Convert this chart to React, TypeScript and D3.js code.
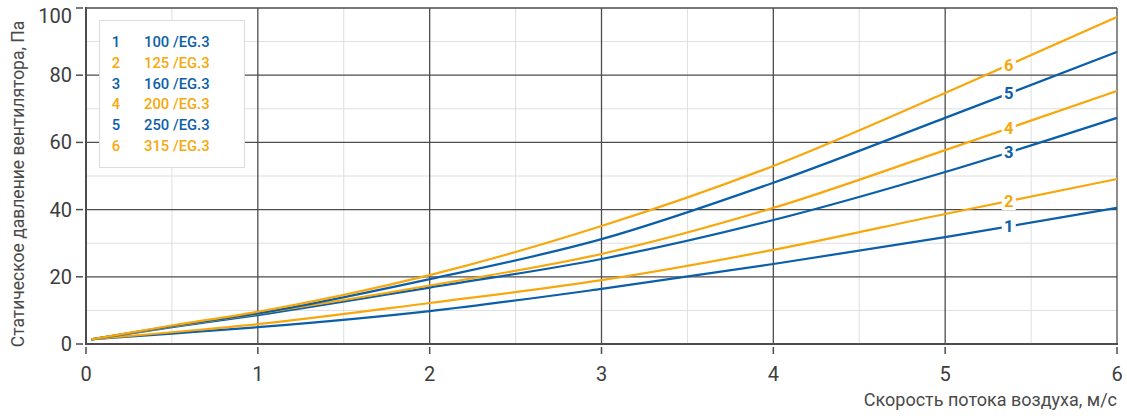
import React from 'react';
import * as d3 from 'd3';

// air speed, m/s
const speeds: number[] = [0.03, 0.5, 1, 2, 3, 4, 5, 6];

// static pressure, Pa, one list per fan size
const series1: number[] = [1.4, 3.1, 5.0, 9.8, 16.4, 23.8, 31.8, 40.5];
const series2: number[] = [1.4, 3.5, 5.9, 12.2, 19.0, 28.0, 38.7, 49.1];
const series3: number[] = [1.4, 5.0, 8.6, 16.8, 25.3, 36.9, 51.2, 67.3];
const series4: number[] = [1.4, 5.2, 9.0, 17.4, 26.8, 40.5, 57.7, 75.3];
const series5: number[] = [1.4, 5.3, 9.1, 19.3, 31.2, 48.0, 67.3, 86.9];
const series6: number[] = [1.4, 5.5, 9.6, 20.5, 35.1, 53.0, 74.7, 97.3];

const seriesIds: string[] = ['1', '2', '3', '4', '5', '6'];
const seriesNames: string[] = ['100 /EG.3', '125 /EG.3', '160 /EG.3', '200 /EG.3', '250 /EG.3', '315 /EG.3'];

const xTicks: number[] = [0, 1, 2, 3, 4, 5, 6];
const yTicks: number[] = [0, 20, 40, 60, 80, 100];
const labelSpeed = 5.37;

const BLUE = '#0b5fa9';
const ORANGE = '#f8a70c';
const FONT = 'Roboto, "DejaVu Sans", sans-serif';

interface IMargin { top: number; right: number; bottom: number; left: number; }

function App() {
    const width = 1127;
    const height = 418;
    const margin: IMargin = { top: 8, right: 10, bottom: 74, left: 86 };

    const x = d3.scaleLinear().domain([0, 6]).range([margin.left, width - margin.right]);
    const y = d3.scaleLinear().domain([0, 100]).range([height - margin.bottom, margin.top]);

    const all = [series1, series2, series3, series4, series5, series6];
    const colors = all.map((_, i) => (i % 2 === 0 ? BLUE : ORANGE));

    const line = d3.line<number>()
        .x((_, i) => x(speeds[i]))
        .y((d) => y(d))
        .curve(d3.curveMonotoneX);

    const minorX = d3.range(0.5, 6, 1);
    const minorY = d3.range(10, 100, 20);

    const valueAt = (s: number[], v: number) => {
        const i = d3.bisectLeft(speeds, v);
        const t = (v - speeds[i - 1]) / (speeds[i] - speeds[i - 1]);
        return s[i - 1] + t * (s[i] - s[i - 1]);
    };

    const x0 = x(0), x1 = x(6), y0 = y(0), y1 = y(100);

    return (
        <svg width={width} height={height} style={{ position: 'absolute', left: 0, top: 0, background: '#fff' }}
            fontFamily={FONT}>
            {/* minor grid */}
            <g stroke="#dedede" strokeWidth={1}>
                {minorX.map((t) => <line key={'mx' + t} x1={x(t)} x2={x(t)} y1={y0} y2={y1} />)}
                {minorY.map((t) => <line key={'my' + t} x1={x0} x2={x1} y1={y(t)} y2={y(t)} />)}
            </g>
            {/* major grid */}
            <g stroke="#4d4d4d" strokeWidth={1.3}>
                {xTicks.slice(1).map((t) => <line key={'gx' + t} x1={x(t)} x2={x(t)} y1={y0} y2={y1} />)}
                {yTicks.slice(1).map((t) => <line key={'gy' + t} x1={x0} x2={x1} y1={y(t)} y2={y(t)} />)}
            </g>
            {/* axes */}
            <g stroke="#4d4d4d" strokeWidth={2}>
                <line x1={x0} x2={x0} y1={y1 - 1} y2={y0 + 1} />
                <line x1={x0 - 1} x2={x1 + 1} y1={y0} y2={y0} />
            </g>
            <g stroke="#4d4d4d" strokeWidth={1.5}>
                {yTicks.map((t) => <line key={'ty' + t} x1={x0 - 10} x2={x0 - 3} y1={y(t)} y2={y(t)} />)}
                {xTicks.map((t) => <line key={'tx' + t} x1={x(t)} x2={x(t)} y1={y0 + 3} y2={y0 + 10} />)}
            </g>
            <g fill="#3d3d3d" fontSize={20}>
                {yTicks.map((t) => (
                    <text key={'ly' + t} x={x0 - 14} y={Math.max(y(t), 16)} dy="0.35em" textAnchor="end">{t}</text>
                ))}
                {xTicks.map((t) => (
                    <text key={'lx' + t} x={x(t)} y={y0 + 37} textAnchor="middle">{t}</text>
                ))}
            </g>
            <text x={x1} y={height - 12} textAnchor="end" fontSize={18} fill="#4a4a4a">
                Скорость потока воздуха, м/с
            </text>
            <text transform={`translate(24,${(y0 + y1) / 2 + 8}) rotate(-90)`} textAnchor="middle" fontSize={17.5}
                fill="#4a4a4a">
                Статическое давление вентилятора, Па
            </text>

            {/* curves */}
            <g fill="none" strokeWidth={2.2}>
                {all.map((s, i) => <path key={'c' + i} d={line(s) as string} stroke={colors[i]} />)}
            </g>
            {/* curve labels */}
            <g fontSize={16.5} fontWeight={700} textAnchor="middle">
                {all.map((s, i) => {
                    const cx = x(labelSpeed);
                    const cy = y(valueAt(s, labelSpeed));
                    return (
                        <g key={'cl' + i}>
                            <rect x={cx - 7} y={cy - 9} width={14} height={18} fill="#fff" />
                            <text x={cx} y={cy} dy="0.36em" fill={colors[i]}>{seriesIds[i]}</text>
                        </g>
                    );
                })}
            </g>

            {/* legend */}
            <rect x={99.5} y={20.5} width={145} height={147} fill="#fff" stroke="#dcdcdc" strokeWidth={1} />
            <g fontSize={14.8} fontWeight={500}>
                {seriesIds.map((id, i) => (
                    <g key={'lg' + i} fill={colors[i]}>
                        <text x={116} y={42 + i * 20.7} dy="0.36em" textAnchor="middle">{id}</text>
                        <text x={144} y={42 + i * 20.7} dy="0.36em">{seriesNames[i]}</text>
                    </g>
                ))}
            </g>
        </svg>
    );
}

export default App;
